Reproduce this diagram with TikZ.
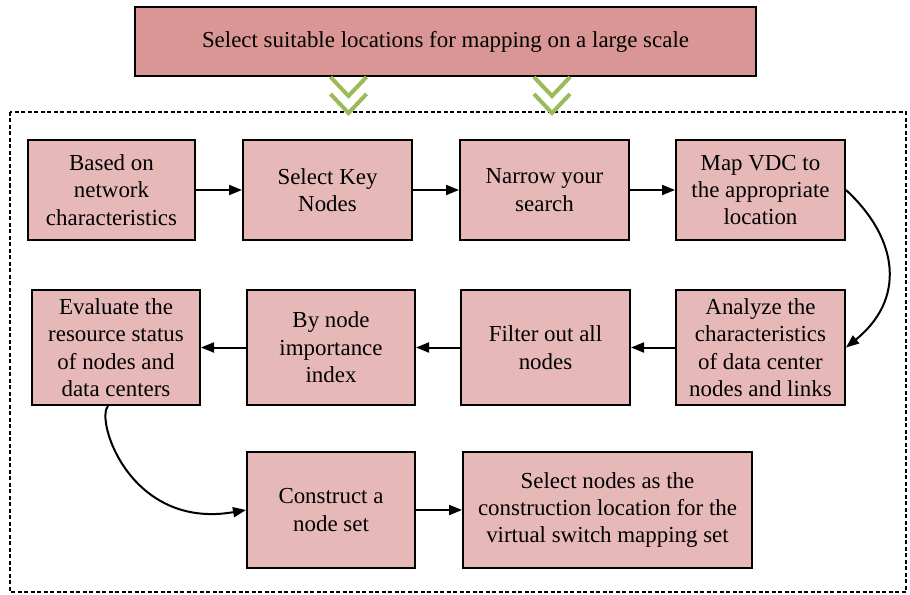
\documentclass[tikz,border=0pt]{standalone}
\usepackage{fontspec}
\setmainfont{Liberation Serif}
\usetikzlibrary{arrows.meta}
\definecolor{bannerfill}{RGB}{217,150,148}
\definecolor{boxfill}{RGB}{230,184,183}
\definecolor{chev}{RGB}{155,187,89}
\begin{document}
\begin{tikzpicture}[x=1bp,y=-1bp,
  box/.style={draw=black,line width=2bp,fill=boxfill,align=center,inner sep=1bp,
    font=\fontsize{23}{27.5}\selectfont,minimum height=100bp},
  arr/.style={line width=2bp,-{Triangle[length=13bp,width=10bp]}},
  chevron/.style={draw=chev,line width=4bp}]
\useasboundingbox (0,0) rectangle (910,595);
\draw[line width=1.6bp,dash pattern=on 4bp off 2.5bp] (10,112) rectangle (906,592);
\node[box,fill=bannerfill,minimum width=621bp,minimum height=69bp] (top) at (445.5,41.5) {Select suitable locations for mapping on a large scale};
% chevrons
\foreach \cx in {348.5,552}{
  \draw[chevron] (\cx-18,77) -- (\cx,96) -- (\cx+18,77);
  \draw[chevron] (\cx-18,94) -- (\cx,113) -- (\cx+18,94);
}
\node[box,minimum width=167bp] (b1) at (111.5,190) {Based on\\network\\characteristics};
\node[box,minimum width=169bp] (b2) at (327.5,190) {Select Key\\Nodes};
\node[box,minimum width=169bp] (b3) at (544.5,190) {Narrow your\\search};
\node[box,minimum width=169bp] (b4) at (760.5,190) {Map VDC to\\the appropriate\\location};
\node[box,minimum width=168bp,minimum height=115bp] (b5) at (116,347.5) {Evaluate the\\resource status\\of nodes and\\data centers};
\node[box,minimum width=168bp,minimum height=115bp] (b6) at (331,347.5) {By node\\importance\\index};
\node[box,minimum width=169bp,minimum height=115bp] (b7) at (545.5,347.5) {Filter out all\\nodes};
\node[box,minimum width=169bp,minimum height=115bp] (b8) at (760.5,347.5) {Analyze the\\characteristics\\of data center\\nodes and links};
\node[box,minimum width=168bp,minimum height=116bp] (b9) at (331,510) {Construct a\\node set};
\node[box,minimum width=289bp,minimum height=116bp] (b10) at (607.5,510) {Select nodes as the\\construction location for the\\virtual switch mapping set};
\draw[arr] (b1.east) -- (b2.west);
\draw[arr] (b2.east) -- (b3.west);
\draw[arr] (b3.east) -- (b4.west);
\draw[arr] (b4.east) .. controls (900,240) and (905,300) .. (b8.east);
\draw[arr] (b8.west) -- (b7.east);
\draw[arr] (b7.west) -- (b6.east);
\draw[arr] (b6.west) -- (b5.east);
\draw[arr] ([xshift=-8bp]b5.south) .. controls (95,420) and (130,530) .. (b9.west);
\draw[arr] (b9.east) -- (b10.west);
\end{tikzpicture}
\end{document}
